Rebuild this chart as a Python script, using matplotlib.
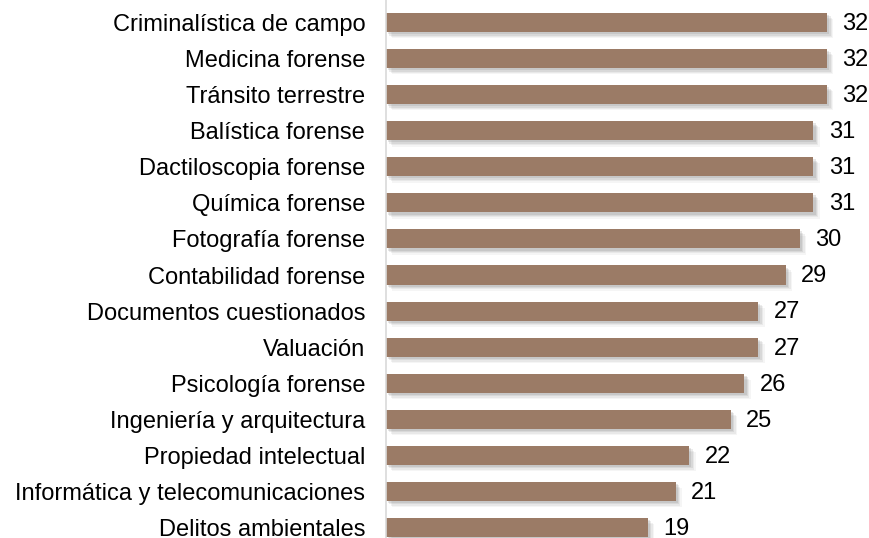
import matplotlib.pyplot as plt
import matplotlib.patheffects as pe

# Data
categories = ['Criminalística de campo', 'Medicina forense', 'Tránsito terrestre',
              'Balística forense', 'Dactiloscopia forense', 'Química forense',
              'Fotografía forense', 'Contabilidad forense', 'Documentos cuestionados',
              'Valuación', 'Psicología forense', 'Ingeniería y arquitectura',
              'Propiedad intelectual', 'Informática y telecomunicaciones',
              'Delitos ambientales']
values = [32, 32, 32, 31, 31, 31, 30, 29, 27, 27, 26, 25, 22, 21, 19]

plt.rcParams['font.family'] = ['Liberation Sans', 'DejaVu Sans']

fig = plt.figure(figsize=(8.69, 5.38), dpi=100)
ax = fig.add_axes([386 / 869, 0, 1 - 386 / 869, 1])

ypos = list(range(len(categories)))

# soft drop shadow made of a few offset layers
shadow = [pe.SimplePatchShadow(offset=(o, -o), shadow_rgbFace='#7a7a7a', alpha=a)
          for o, a in [(4.5, 0.07), (3.5, 0.1), (2.5, 0.14), (1.5, 0.18)]]
bars = ax.barh(ypos, values, height=0.53, color='#9b7b66', edgecolor='none',
               path_effects=shadow + [pe.Normal()])

for y, v in zip(ypos, values):
    ax.annotate(str(v), xy=(v, y), xytext=(11, -1), textcoords='offset points',
                va='center', ha='left', fontsize=17, color='black')

ax.set_xlim(0, 35.03)
ax.set_ylim(14.291, -0.624)
ax.set_yticks(ypos)
ax.set_yticklabels(categories, fontsize=17)
ax.tick_params(axis='y', length=0, pad=15)
ax.set_xticks([])
for s in ['top', 'right', 'bottom']:
    ax.spines[s].set_visible(False)
ax.spines['left'].set_color('#d9d9d9')
ax.spines['left'].set_linewidth(1.2)
ax.patch.set_alpha(0)

fig.savefig('out.png', dpi=100)
